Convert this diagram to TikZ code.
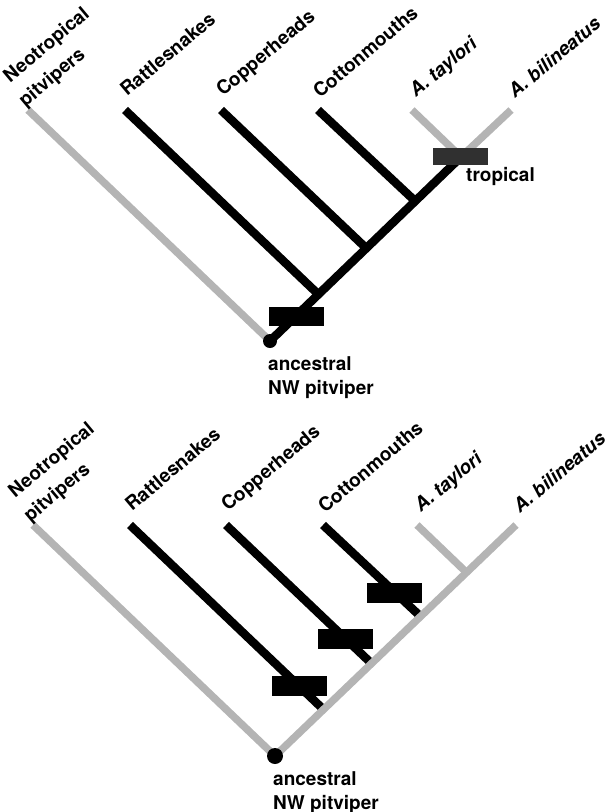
\documentclass[tikz,border=0pt]{standalone}
\usepackage{fontspec}
\setmainfont{TeX Gyre Heros}
\definecolor{treegray}{RGB}{180,180,180}
\definecolor{tropgray}{RGB}{48,48,48}
\newcommand\rotlab[5]{%
  \begin{scope}[transform canvas={shift={(#2,#3)}, rotate=40}]
    \node[lbl,#4] (#1) at (0,0) {#5};
  \end{scope}}
\begin{document}
\begin{tikzpicture}[x=1pt,y=-1pt,
  blk/.style={line width=8.5pt,draw=black},
  gry/.style={line width=7.5pt,draw=treegray},
  txt/.style={font=\bfseries\fontsize{19}{24}\selectfont, inner sep=0pt},
  lbl/.style={txt, anchor=base west},
  itl/.style={font=\bfseries\itshape\fontsize{19}{24}\selectfont},
  two/.style={anchor=south west, align=left, font=\bfseries\fontsize{19}{28.4}\selectfont},
  bar/.style={fill=black, minimum width=55pt, minimum height=19pt, inner sep=0pt},
  tbar/.style={bar, fill=tropgray, minimum height=17pt},
  dot/.style={circle, fill=black, minimum size=14pt, inner sep=0pt}]
\useasboundingbox (0,0) rectangle (615,812);

% ---------------- top panel ----------------
\coordinate (t-root) at (270,341);
\coordinate (t-ntip) at (28,110);
\coordinate (t-rtip) at (125,110);
\coordinate (t-ctip) at (221,110);
\coordinate (t-otip) at (318,110);
\coordinate (t-ttip) at (412,110);
\coordinate (t-btip) at (511,110);
\coordinate (t-rj) at (318,294);
\coordinate (t-cj) at (366,248);
\coordinate (t-oj) at (414,200);
\coordinate (t-tj) at (461,157);
\draw[gry] (t-ntip) -- (t-root);
\draw[gry] (t-ttip) -- (t-tj) -- (t-btip);
\draw[blk] (t-rtip) -- (t-rj);
\draw[blk] (t-ctip) -- (t-cj);
\draw[blk] (t-otip) -- (t-oj);
\draw[blk] (t-root) -- (t-tj);
\node[tbar] (t-trop) at (460,156) {};
\node[bar] (t-anc) at (296,316) {};
\node[dot] (t-dot) at (t-root) {};
\node[txt, anchor=base west] (t-ltrop) at (466,181) {tropical};
\node[txt, anchor=north west, align=left] (t-lanc) at (268,356) {ancestral\\NW pitviper};
\rotlab{t-lneo}{28}{111}{two}{\hspace*{4pt}Neotropical\\pitvipers}
\rotlab{t-lrat}{127}{97}{}{Rattlesnakes}
\rotlab{t-lcop}{223}{97}{}{Copperheads}
\rotlab{t-lcot}{320}{99}{}{Cottonmouths}
\rotlab{t-ltay}{416}{98}{itl}{A. taylori}
\rotlab{t-lbil}{515}{99}{itl}{A. bilineatus}

% ---------------- bottom panel ----------------
\coordinate (b-root) at (275,756);
\coordinate (b-ntip) at (33,525);
\coordinate (b-rtip) at (130,525);
\coordinate (b-ctip) at (226,525);
\coordinate (b-otip) at (323,525);
\coordinate (b-ttip) at (417,525);
\coordinate (b-btip) at (516,525);
\coordinate (b-rj) at (323,709);
\coordinate (b-cj) at (371,663);
\coordinate (b-oj) at (419,615);
\coordinate (b-tj) at (466,572);
\draw[blk] (b-rtip) -- (b-rj);
\draw[blk] (b-ctip) -- (b-cj);
\draw[blk] (b-otip) -- (b-oj);
\draw[gry] (b-ntip) -- (b-root) -- (b-btip);
\draw[gry] (b-ttip) -- (b-tj);
\node[bar, minimum height=20pt] (b-rbar) at (299,686) {};
\node[bar, minimum height=20pt] (b-cbar) at (345,639) {};
\node[bar, minimum height=20pt] (b-obar) at (394,593) {};
\node[dot, minimum size=16pt] (b-dot) at (b-root) {};
\node[txt, anchor=north west, align=left] (b-lanc) at (273,771) {ancestral\\NW pitviper};
\rotlab{b-lneo}{33}{526}{two}{\hspace*{4pt}Neotropical\\pitvipers}
\rotlab{b-lrat}{132}{512}{}{Rattlesnakes}
\rotlab{b-lcop}{228}{512}{}{Copperheads}
\rotlab{b-lcot}{325}{514}{}{Cottonmouths}
\rotlab{b-ltay}{421}{513}{itl}{A. taylori}
\rotlab{b-lbil}{520}{514}{itl}{A. bilineatus}
\end{tikzpicture}
\end{document}
